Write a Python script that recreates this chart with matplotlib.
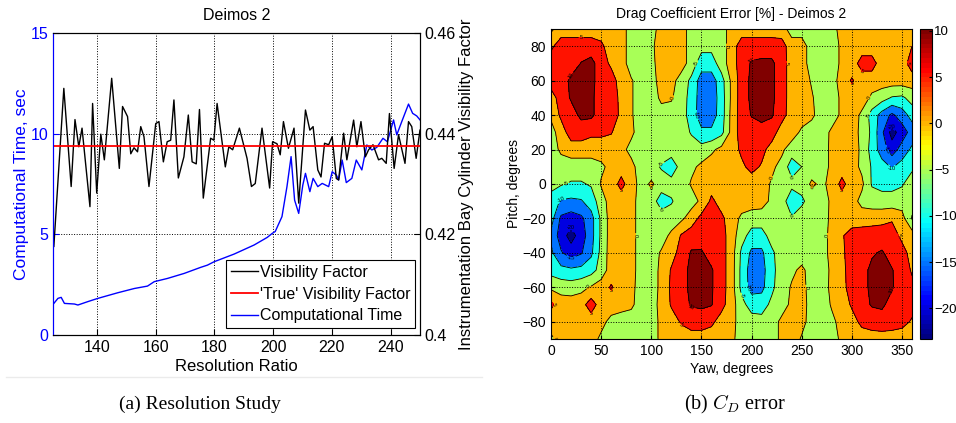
import numpy as np
import matplotlib
matplotlib.use('Agg')
import matplotlib.pyplot as plt
from matplotlib.colors import Normalize, ListedColormap
from matplotlib.cm import ScalarMappable
from matplotlib.lines import Line2D

plt.rcParams['font.family'] = ['Liberation Sans', 'DejaVu Sans']
plt.rcParams['mathtext.fontset'] = 'cm'

# ---- (a) resolution study ----
vis_ratio = [125.3, 128.7, 131.2, 132.5, 133.8, 134.9, 137.6, 138.5, 139.9, 141.3,
             142.5, 145.0, 147.6, 148.7, 150.4, 151.5, 152.6, 153.8, 154.9, 156.0,
             157.7, 160.0, 161.1, 162.6, 163.9, 165.1, 166.2, 167.7, 169.6, 171.1,
             172.4, 173.8, 174.9, 176.2, 178.7, 179.8, 180.9, 183.7, 184.9, 186.2,
             188.5, 191.1, 192.6, 193.9, 196.2, 198.8, 199.8, 201.3, 202.4, 203.5,
             205.2, 207.1, 208.7, 211.0, 212.5, 213.6, 215.2, 216.3, 217.5, 218.9,
             220.1, 221.5, 222.3, 224.0, 225.1, 227.4, 228.5, 229.9, 231.4, 232.5,
             234.0, 235.9, 237.0, 238.5, 239.6, 241.2, 242.7, 244.9, 246.1, 247.2,
             248.7, 250.0]
vis_factor = [0.4176, 0.4490, 0.4295, 0.4428, 0.4374, 0.4411, 0.4255, 0.4460, 0.4282, 0.4399,
              0.4348, 0.4510, 0.4331, 0.4454, 0.4434, 0.4360, 0.4372, 0.4364, 0.4414, 0.4394,
              0.4295, 0.4420, 0.4424, 0.4344, 0.4384, 0.4387, 0.4467, 0.4312, 0.4354, 0.4437,
              0.4344, 0.4340, 0.4448, 0.4272, 0.4391, 0.4387, 0.4460, 0.4334, 0.4374, 0.4368,
              0.4411, 0.4351, 0.4295, 0.4301, 0.4411, 0.4292, 0.4384, 0.4380, 0.4358, 0.4424,
              0.4371, 0.4411, 0.4262, 0.4447, 0.4407, 0.4414, 0.4328, 0.4314, 0.4381, 0.4378,
              0.4394, 0.4311, 0.4308, 0.4401, 0.4348, 0.4427, 0.4374, 0.4424, 0.4354, 0.4368,
              0.4378, 0.4348, 0.4351, 0.4341, 0.4440, 0.4331, 0.4398, 0.4341, 0.4424, 0.4414,
              0.4351, 0.4407]

time_ratio = [125.3, 126.7, 127.8, 128.9, 132.3, 133.5, 136.9, 140.3, 147.1, 152.7,
              157.2, 159.5, 164.0, 169.7, 175.3, 177.6, 179.9, 186.7, 193.5, 198.0,
              199.7, 200.7, 203.0, 204.7, 206.1, 207.3, 208.7, 210.1, 211.0, 212.5,
              213.6, 215.2, 216.7, 218.9, 220.1, 221.5, 222.3, 223.5, 224.9, 226.8,
              228.3, 230.2, 231.9, 233.6, 235.3, 237.4, 238.9, 241.0, 242.1, 243.8,
              246.1, 247.5, 248.9, 250.2]
comp_time = [1.57, 1.82, 1.87, 1.57, 1.54, 1.49, 1.66, 1.82, 2.10, 2.31,
             2.43, 2.65, 2.81, 3.06, 3.36, 3.47, 3.64, 4.02, 4.47, 4.85,
             5.05, 5.14, 5.88, 7.37, 8.86, 6.70, 6.04, 7.45, 8.03, 7.12,
             7.78, 7.37, 7.53, 7.37, 8.11, 7.95, 7.70, 8.69, 7.57, 7.78,
             8.69, 8.20, 9.44, 9.19, 9.32, 9.77, 9.60, 10.68, 9.94, 10.60,
             11.47, 11.01, 10.88, 10.65]

true_ratio = [125, 250]
true_vis = 0.4376

# ---- (b) drag coefficient error, rows from pitch 90 down to -90 ----
yaw_deg = list(range(0, 361, 10))
pitch_deg = list(range(90, -91, -10))
cd_error = [
    [-1, 2.5, 2.5, 2.5, 2.5, 2.5, 2.5, 2.5, -2.5, -2.5, -2.5, 2.5, 2.5, 2.5, -2.5, -2.5, -2.5, -2.5, 2.5, 2.5, 2.5, 2.5, 2.5, 2.5, -2.5, -2.5, -2.5, -2.5, -2.5, 2.5, 2.5, 2.5, 2.5, 2.5, 2.5, 2.5, 2.5],
    [4, 7.5, 7.5, 7.5, 7.5, 6, 2.5, 2.5, -2.5, -2.5, -1, 2.5, 2.5, 2.5, -2.5, -3.5, -3.5, -2.5, 2.5, 7.5, 7.5, 7.5, 7.5, 7, 2.5, 2.5, -2.5, -2.5, -2.5, 1, 2.5, 2.5, 2.5, 2.5, 2.5, 2.5, 5],
    [7.5, 7.5, 7.5, 10.2, 11.5, 7.5, 4, 2.5, -2.5, -2.5, -1.5, 2.5, 2.5, 2.5, -2.5, -7.5, -7.5, -2.5, 2.5, 7.5, 10.5, 11, 11, 7.5, 2.5, 2.5, -2.5, -2.5, -2.5, 1, 2.5, 7, 7, 2.5, 2.5, 2.5, 7.5],
    [7.5, 7.5, 11, 11.5, 11.5, 7.5, 7.5, 2.5, 0.5, -2.5, -2.5, 2.5, 2, -2.5, -6, -12.5, -12.5, -7, 1, 7.5, 11, 11.5, 11, 7.5, 2.5, 2.5, -0.5, -2.5, -2.5, 2.5, 5.5, 2.5, 2.5, 2.5, 2.5, 2.5, 2.5],
    [2.5, 7.5, 10.5, 11.5, 11, 7.5, 8, 3.5, 0.5, -2.5, -2.5, 1, 0.5, -2.5, -7, -12.5, -13, -7.5, 1, 7.5, 11, 11.5, 11, 7.5, 2.5, 2.5, 0.5, -2.5, -2.5, 1, 2.5, 2.5, -1, -3, -5.5, -6, -3],
    [1, 6, 8, 11, 11, 7.5, 7.5, 4, 0.5, -2.5, -2.5, -2, -2, -2.5, -7.5, -12.5, -12.5, -7.5, 1.5, 7.5, 10.3, 11.5, 10.5, 7, 2.5, 2.5, 1, -2.5, -2.5, 1, 2.5, -1, -7, -12, -16, -12.5, -8],
    [-2, 2.5, 7.5, 7.5, 6, 6, 5.3, 2.5, 1, -2.5, -2.5, -2.5, -2.5, -2.5, -5.5, -9, -9, -6.5, 1.5, 7.5, 7.5, 8, 7.5, 2.5, 2.5, -1, -2.5, -2.5, 1, 2.5, 2.5, -1.5, -6, -14, -22, -17.5, -13],
    [-2.5, 1, 2.5, 2.5, 2.5, 2.5, 2.5, 1.5, -1.5, -2.5, -2.5, -2.5, -2.5, -2.5, -2.5, -3, -1, 1.5, 2.5, 6, 7.5, 6.5, 3, 1, -2.5, -2.5, -2.5, -2, 1, 2.5, 2.5, -1, -7, -12.5, -17.5, -13, -9],
    [-2.5, -2.5, -2.5, -2.5, -2.5, -1, 1.5, 3, 1.5, -2.5, -3, -5.5, -8, -3, -1, 1, 2.5, 2.5, 2.5, 4, 6.5, 4.5, 1, -1.5, -7.5, -5, -2.5, -2, 1, 2.5, 2, -1, -5.5, -8, -10.5, -8, -6],
    [-3, -4.5, -5.5, -5.5, -4.5, 0.5, 2.5, 6.5, 2.5, -2, 0.8, -2.5, -3, -2.5, 0.5, 2.5, 3, 2.5, 2.5, 2.5, 2.5, 2, -0.5, -2.5, -3.5, -3, 0.8, -1, 1.5, 6.5, 2.5, 1, -5.5, -6.5, -6.5, -5.5, -2.5],
    [-7.5, -10.5, -11, -10.5, -7.5, -2.5, 2.5, 2.5, 2, -2.5, -2.5, -7.5, -5.5, -2.5, -2, 1, 6, 3, 2.5, 2.5, 2.5, 2, -1, -2.5, -8.5, -6, -2.5, -2.5, 1, 2.5, 2, -1.5, -2.5, -3, -3, -2.5, -3],
    [-8, -16, -17.5, -16, -12, -4, 2.5, 2.5, 2, -2.5, -2.5, -2.5, -2.5, -1, 2.5, 6.5, 7.5, 6, 2.5, -1, -2.5, -2.5, -2.5, -2.5, -4.5, -2.5, -2.5, -2, 1, 2.5, 2.5, 2.5, 3, 3.5, 4.5, 2, -5.5],
    [-11, -17.5, -22, -17.5, -12, -4, 2.5, 2.5, 2, -2.5, -2.5, -2, 1, 5.5, 7.5, 8, 7.5, 7, 2.5, -3, -7, -7, -3, -2.5, -2.5, -2.5, -2.5, -2, 1.5, 4.5, 7, 7.5, 7.5, 7.5, 7, 4, 2.5],
    [-9, -14.5, -17.5, -15.5, -11, -3.5, 2.5, 2.5, 2, -2.5, -2, 0.5, 3, 7, 10.5, 10.5, 8, 7, 2.5, -6, -11, -11, -6, -2.5, -2.5, -2.5, -2.5, -2, 1.5, 4, 7.5, 8, 9.5, 10.5, 8, 6.5, 3.5],
    [-7, -8.5, -9, -8.5, -7, -3, 2.5, 2.5, 2, -2.5, -2, 1, 5.5, 8.5, 11, 11.5, 10.5, 7, 2.5, -6.5, -12.5, -12, -6.5, -2.5, -1, 1, -2, -2.5, 1, 3.5, 7.5, 8.5, 11, 11.5, 10.3, 7.5, 4.5],
    [-1, -2, -2.5, -1.5, 0.5, 2.5, 5.5, 2.5, 1.5, -2.5, -2, 1, 6, 8.5, 11, 11.5, 10.5, 7, 2.5, -6.5, -12, -11.5, -6, -2.5, 0.5, 1.5, -2, -2, 1, 3.5, 7, 8.5, 11, 11.5, 10.5, 7.5, 6],
    [6, 2.5, 2.5, 3, 7.5, 2.5, 2.5, 2, 1, -2.5, -2, 1.5, 5.5, 8, 10.5, 11, 10.3, 6.5, 2.5, -3.5, -7, -7, -4, -2, 1, 2, -2, -2.5, 0.5, 3, 5.5, 8, 10.5, 11, 8, 7, 6.5],
    [2.5, 2.5, 2.5, 2.5, 2.5, 1.5, -1.5, -2.5, -2.5, -2.5, -2, 1, 3, 5.5, 7, 7, 6, 3, 1.5, -2, -3, -3.5, -2, 1, 2.5, 1.5, -2, -2.5, -1, 1.5, 3.5, 6, 7, 7.5, 7, 6.5, 4.5],
    [-1, 2, 2.5, 2.5, 2, -1, -2.5, -2.5, -2.5, -2.5, -2, 1, 2.5, 2.5, 3, 3, 2.5, 2, 1, -2, -2.5, -2.5, -2, 1, 2.5, -0.5, -2.5, -2.5, -2, 1, 2.5, 3, 3, 3, 3, 2.5, 2.5],
]
cd_levels = [-20, -15, -10, -5, 0, 5, 10]
cbar_min, cbar_max = -23.3, 10.2

# MATLAB style jet, 64 steps
t = np.linspace(0, 1, 64)
jet64 = ListedColormap(np.clip(np.column_stack([1.5 - np.abs(4 * t - 3),
                                                1.5 - np.abs(4 * t - 2),
                                                1.5 - np.abs(4 * t - 1)]), 0, 1))

fig = plt.figure(figsize=(9.56, 4.23), dpi=100)

# left: plotyy style
ax = fig.add_axes([0.0554, 0.208, 0.3839, 0.714])
ln_time, = ax.plot(time_ratio, comp_time, color='b', lw=1)
ax.set_xlim(125, 250)
ax.set_ylim(0, 15)
ax.set_xticks([140, 160, 180, 200, 220, 240])
ax.set_yticks([0, 5, 10, 15])
ax.tick_params(direction='in', length=4, labelsize=11.5)
ax.tick_params(axis='y', colors='b')
ax.spines['left'].set_color('b')
ax.set_xlabel('Resolution Ratio', fontsize=12, labelpad=3)
ax.set_ylabel('Computational Time, sec', color='b', fontsize=12.5, labelpad=1)
ax.set_title('Deimos 2', fontsize=11.5, pad=9)
ax.grid(True, ls=':', color='k', lw=0.7)

ax2 = ax.twinx()
ln_vis, = ax2.plot(vis_ratio, vis_factor, color='k', lw=1)
ln_true, = ax2.plot(true_ratio, [true_vis, true_vis], color='r', lw=1.3)
ax2.set_ylim(0.4, 0.46)
ax2.set_yticks([0.4, 0.42, 0.44, 0.46])
ax2.set_yticklabels(['0.4', '0.42', '0.44', '0.46'])
ax2.tick_params(direction='in', length=4, labelsize=11.5)
ax2.spines['left'].set_color('b')
ax2.set_ylabel('Instrumentation Bay Cylinder Visibility Factor', fontsize=12, labelpad=2)

leg = ax2.legend([ln_vis, ln_true, ln_time],
                 ['Visibility Factor', "'True' Visibility Factor", 'Computational Time'],
                 loc='lower right', bbox_to_anchor=(0.986, 0.023), borderaxespad=0,
                 fontsize=11.5, fancybox=False, framealpha=1, edgecolor='k',
                 handlelength=1.7, handletextpad=0.1, labelspacing=0.42, borderpad=0.3)
leg.get_frame().set_linewidth(0.8)

# right: contour map
norm = Normalize(cbar_min, cbar_max)
fill_levels = [-40] + cd_levels + [20]
band_colors = [jet64(norm(v)) for v in [cbar_min] + cd_levels]
yaw_g = np.array(yaw_deg)
pitch_g = np.array(pitch_deg)[::-1]
z = np.array(cd_error)[::-1]

ax3 = fig.add_axes([0.5764, 0.1986, 0.3776, 0.7329])
ax3.contourf(yaw_g, pitch_g, z, levels=fill_levels, colors=band_colors)
cs = ax3.contour(yaw_g, pitch_g, z, levels=cd_levels, colors='k', linewidths=0.6,
                 linestyles='solid')
ax3.clabel(cs, fontsize=4, fmt='%d', inline_spacing=1)
ax3.set_xlim(0, 360)
ax3.set_ylim(-90, 90)
ax3.set_xticks(range(0, 351, 50))
ax3.set_yticks(range(-80, 81, 20))
ax3.tick_params(direction='in', length=3, labelsize=10)
ax3.set_axisbelow(False)
ax3.grid(True, ls=':', color='k', lw=0.7)
ax3.set_xlabel('Yaw, degrees', fontsize=10, labelpad=3)
ax3.set_ylabel('Pitch, degrees', fontsize=10, labelpad=1)
ax3.set_title('Drag Coefficient Error [%] - Deimos 2', fontsize=10, pad=8)

cax = fig.add_axes([0.9625, 0.1986, 0.0125, 0.7329])
sm = ScalarMappable(norm=norm, cmap=jet64)
cb = fig.colorbar(sm, cax=cax, ticks=[10, 5, 0, -5, -10, -15, -20])
cax.tick_params(direction='in', length=2, labelsize=9.5, pad=1.5)
cb.outline.set_linewidth(0.8)

# captions and the faint frame line of the embedded picture
fig.add_artist(Line2D([0.006, 0.504], [0.109, 0.109], color='#ebebeb', lw=1))
fig.text(0.209, 0.043, '(a) Resolution Study', family='Liberation Serif', fontsize=14,
         ha='center', va='center')
fig.text(0.769, 0.043, '(b) $C_D$ error', family='Liberation Serif', fontsize=14.5,
         ha='center', va='center')

fig.savefig('out.png', dpi=100)
